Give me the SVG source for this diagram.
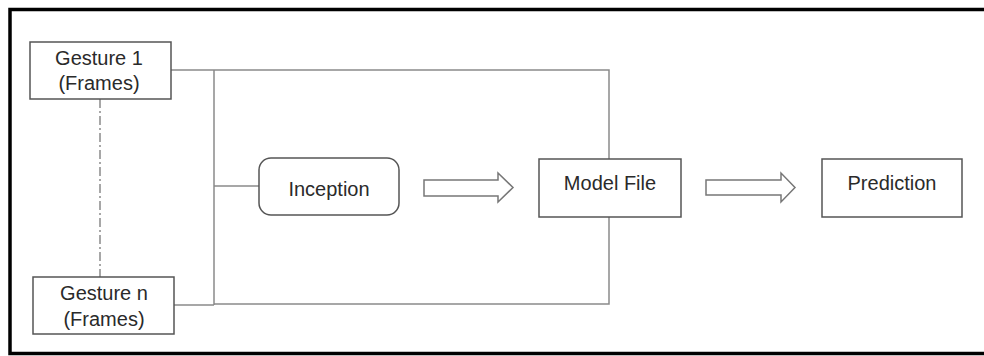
<svg xmlns="http://www.w3.org/2000/svg" width="984" height="356" viewBox="0 0 984 356">
<style>
.box{fill:#fff;stroke:#555;stroke-width:1.5}
.ln{fill:none;stroke:#8a8a8a;stroke-width:1.5}
.arr{fill:#fff;stroke:#777;stroke-width:1.5;stroke-linejoin:miter}
.t{font-family:"Liberation Sans",Arial,sans-serif;font-size:20px;fill:#2a2a2a;text-anchor:middle}
</style>
<rect x="0" y="0" width="984" height="356" fill="#fff"/>
<rect x="10" y="9.5" width="1000" height="344" fill="none" stroke="#000" stroke-width="3.5"/>
<g id="connectors">
  <path class="ln" d="M171 70 H609 V304 H214 M214 70 V305 M174 305 H214 M214 186 H259"/>
  <path class="ln" d="M100 99 V277" stroke-dasharray="9 3 2 3" stroke-width="1"/>
  <path class="arr" d="M424 180 H498 V173 L513 187.5 L498 202 V196 H424 Z"/>
  <path class="arr" d="M706 180 H781 V173 L795 187.5 L781 202 V195 H706 Z"/>
</g>
<g id="gesture1">
  <rect class="box" x="30" y="42" width="141" height="57"/>
  <text class="t" x="99" y="65">Gesture 1</text>
  <text class="t" x="99" y="90">(Frames)</text>
</g>
<g id="gesturen">
  <rect class="box" x="33" y="277" width="141" height="57"/>
  <text class="t" x="104" y="300">Gesture n</text>
  <text class="t" x="104" y="326">(Frames)</text>
</g>
<g id="inception">
  <rect class="box" x="259" y="158" width="140" height="57" rx="12"/>
  <text class="t" x="329" y="196">Inception</text>
</g>
<g id="modelfile">
  <rect class="box" x="539" y="159" width="142" height="58"/>
  <text class="t" x="610" y="190">Model File</text>
</g>
<g id="prediction">
  <rect class="box" x="822" y="159" width="140" height="58"/>
  <text class="t" x="892" y="190">Prediction</text>
</g>
</svg>
